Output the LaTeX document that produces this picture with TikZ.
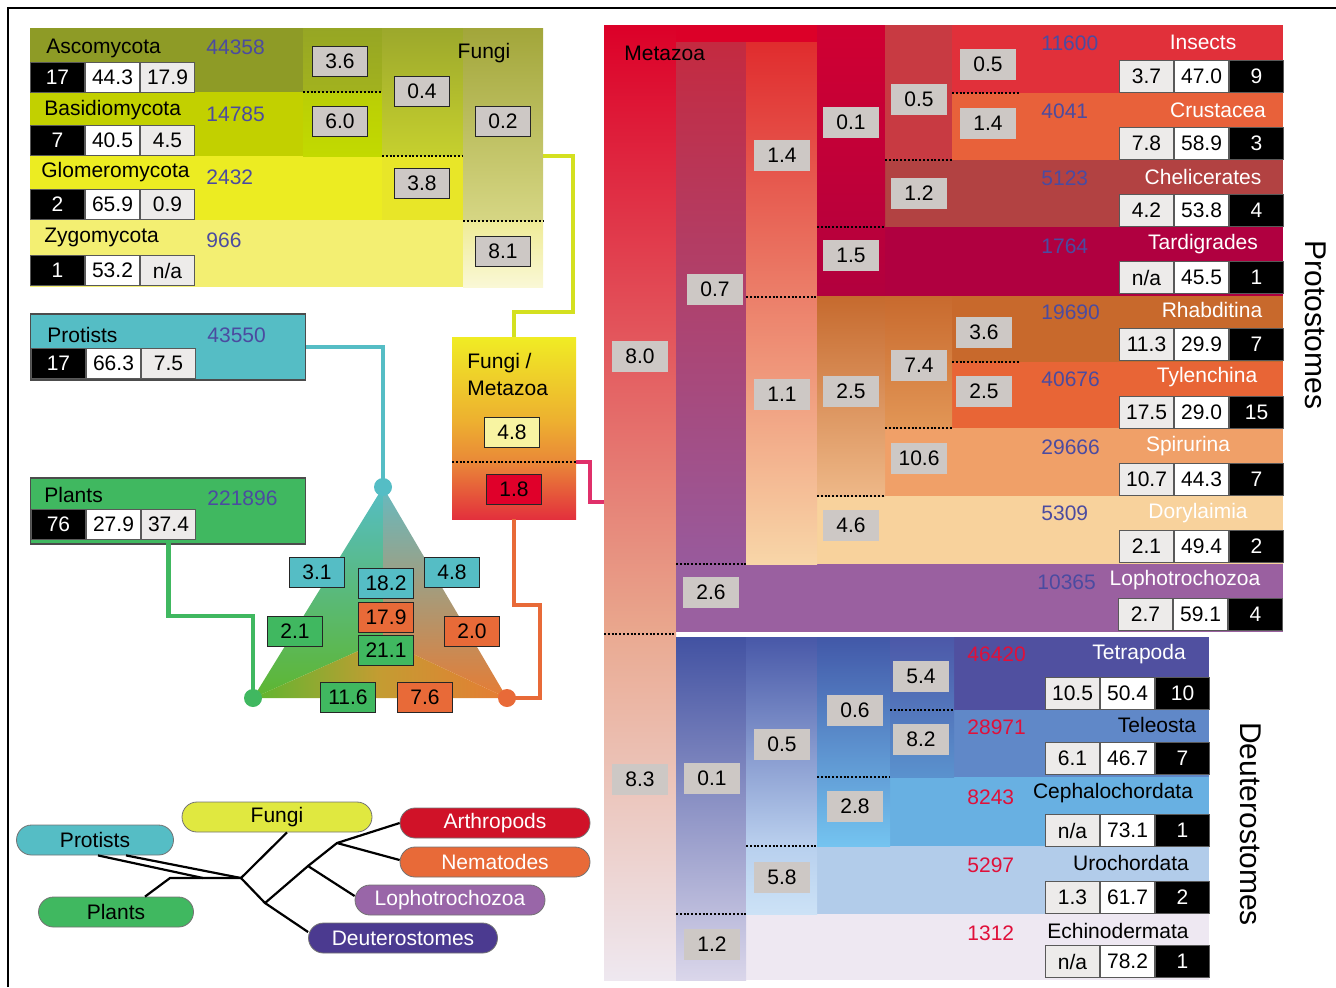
\documentclass[tikz,border=0pt]{standalone}
\usepackage{fontspec}
\setmainfont{Liberation Sans}
\usetikzlibrary{positioning,shapes.misc}

% colours
\definecolor{boxgray}{HTML}{CDC8C5}
\definecolor{cellgray}{HTML}{EDEBEA}
\definecolor{numblue}{HTML}{4B4BA0}
\definecolor{numred}{HTML}{E0103A}
\definecolor{colAsco}{HTML}{8E9B26}
\definecolor{colBasid}{HTML}{C2D000}
\definecolor{colGlom}{HTML}{ECEC22}
\definecolor{colZygo}{HTML}{F3EF72}
\definecolor{fA1}{HTML}{96A624}
\definecolor{fA2}{HTML}{A2B21E}
\definecolor{fA3}{HTML}{BACE06}
\definecolor{fA4}{HTML}{C2DA00}
\definecolor{fB1}{HTML}{9CA82C}
\definecolor{fB2}{HTML}{C6D02E}
\definecolor{fB3}{HTML}{E8E628}
\definecolor{fC1}{HTML}{A2A63A}
\definecolor{fC2}{HTML}{D6D684}
\definecolor{fC3}{HTML}{EFEB96}
\definecolor{fC4}{HTML}{FAF8D6}
\definecolor{colProt}{HTML}{55BDC5}
\definecolor{colPlant}{HTML}{40B860}
\definecolor{colOrange}{HTML}{E86A38}
\definecolor{colPink}{HTML}{E0306A}
\definecolor{colFungiLink}{HTML}{D4E020}
\definecolor{colTreeFungi}{HTML}{E0E840}
\definecolor{colArthro}{HTML}{D01228}
\definecolor{colLopho}{HTML}{9966A8}
\definecolor{colDeut}{HTML}{4B3A90}
\definecolor{triTeal}{HTML}{66BAC0}
\definecolor{triGreen}{HTML}{5EB630}
\definecolor{triGold}{HTML}{C49C32}
\definecolor{triOrange}{HTML}{E67C34}
\definecolor{fmYellow}{HTML}{F0EC24}
\definecolor{fmAmber}{HTML}{EDB030}
\definecolor{fmOrange}{HTML}{E98838}
\definecolor{fmRed}{HTML}{E3303C}
\definecolor{fmPale}{HTML}{F8F4A2}
\definecolor{fmLab}{HTML}{E0002A}
% metazoa
\definecolor{m0a}{HTML}{DC0028}
\definecolor{m0m}{HTML}{E26048}
\definecolor{m0b}{HTML}{E9A88E}
\definecolor{m0c}{HTML}{EAAA92}
\definecolor{m0d}{HTML}{EEE8F0}
\definecolor{insect}{HTML}{E1303A}
\definecolor{crust}{HTML}{E8613A}
\definecolor{chel}{HTML}{B24242}
\definecolor{tard}{HTML}{B00040}
\definecolor{rhab}{HTML}{C8692C}
\definecolor{tyl}{HTML}{E86536}
\definecolor{spir}{HTML}{F0A068}
\definecolor{dory}{HTML}{F8D29C}
\definecolor{lopho}{HTML}{9A60A0}
\definecolor{p1a}{HTML}{C42A40}
\definecolor{p1b}{HTML}{985A9C}
\definecolor{p2a}{HTML}{E02C2E}
\definecolor{p2m}{HTML}{EF8A5A}
\definecolor{p2b}{HTML}{F8D6A8}
\definecolor{p3a}{HTML}{D00032}
\definecolor{p3b}{HTML}{B2003E}
\definecolor{p3c}{HTML}{C66A2E}
\definecolor{p3d}{HTML}{EEB888}
\definecolor{p4a}{HTML}{C83A42}
\definecolor{p4c}{HTML}{C86A2E}
\definecolor{p4d}{HTML}{E29656}
\definecolor{d1a}{HTML}{4252A2}
\definecolor{d1b}{HTML}{DAD6EA}
\definecolor{d2a}{HTML}{4858A8}
\definecolor{d2b}{HTML}{BAD0EE}
\definecolor{d2c}{HTML}{B8D0EE}
\definecolor{d2d}{HTML}{CCE2F6}
\definecolor{d3a}{HTML}{4258A8}
\definecolor{d3b}{HTML}{74C4F0}
\definecolor{d4a}{HTML}{4C58A8}
\definecolor{d4b}{HTML}{5A92CE}
\definecolor{tetra}{HTML}{5050A0}
\definecolor{tele}{HTML}{6088C8}
\definecolor{ceph}{HTML}{68B0E2}
\definecolor{uro}{HTML}{B2CCEA}
\definecolor{echi}{HTML}{EEE8F2}

\pgfdeclareverticalshading{fmshade}{100bp}{color(0bp)=(fmRed); color(25bp)=(fmRed); color(40.7bp)=(fmOrange); color(52bp)=(fmAmber); color(75bp)=(fmYellow); color(100bp)=(fmYellow)}

% three data cells: black, white, grey (fungi, protists, plants)
\newcommand{\ftrio}[5]{%
  \node[fcell, fill=black, text=white, anchor=north west] (#1a) at (#2) {#3};
  \node[fcell, fill=white, right=0pt of #1a] (#1b) {#4};
  \node[fcell, fill=cellgray, right=0pt of #1b] (#1c) {#5};
}
% three data cells: grey, white, black (metazoa)
\newcommand{\mtrio}[5]{%
  \node[mcell, fill=cellgray, anchor=north west] (#1a) at (#2) {#3};
  \node[mcell, fill=white, right=0pt of #1a] (#1b) {#4};
  \node[mcell, fill=black, text=white, right=0pt of #1b] (#1c) {#5};
}

\begin{document}
\begin{tikzpicture}[x=0.5pt, y=-0.5pt,
    every node/.style={font=\fontsize{10.5}{12}\selectfont},
    fcell/.style={minimum width=27pt, minimum height=15pt, inner sep=0pt, draw=black!65, line width=0.5pt},
    mcell/.style={fcell, minimum height=16pt},
    lab/.style={minimum width=27.5pt, minimum height=15pt, inner sep=0pt, fill=boxgray, draw=black!85, line width=0.5pt},
    mlab/.style={minimum width=28pt, minimum height=15.5pt, inner sep=0pt, fill=boxgray},
    group/.style={minimum width=137.5pt, minimum height=33pt, inner sep=0pt, draw=black!70, line width=0.6pt},
    taxon/.style={anchor=west, inner sep=0pt},
    mtaxon/.style={inner sep=0pt, text=white},
    nums/.style={anchor=west, inner sep=0pt, text=numblue},
    dnums/.style={nums, text=numred},
    div/.style={line width=0.6pt, dash pattern=on 1pt off 0.9pt},
    link/.style={line width=2.2pt},
    vdot/.style={circle, minimum size=9pt, inner sep=0pt},
    pill/.style={rounded rectangle, minimum height=15pt, inner sep=0pt, draw=black!55, line width=0.4pt},
    branch/.style={line width=1.1pt}
]
\useasboundingbox (0,0) rectangle (1336,987);

% frame
\draw[line width=1pt] (8,987) -- (8,8) -- (1336,8);

% Fungi block
\fill[colAsco] (30,28) rectangle (303,92);
\fill[colBasid] (30,92) rectangle (303,156);
\fill[colGlom] (30,156) rectangle (382,220);
\fill[colZygo] (30,220) rectangle (463,287);
\shade[top color=fA1, bottom color=fA2] (303,28) rectangle (382,92);
\shade[top color=fA3, bottom color=fA4] (303,92) rectangle (382,156);
\shade[top color=fB1, bottom color=fB2] (382,28) rectangle (463,156);
\fill[fB3] (382,156) rectangle (463,220);
\shade[top color=fC1, bottom color=fC2] (463,28) rectangle (543,221);
\shade[top color=fC3, bottom color=fC4] (463,221) rectangle (543,287);
\draw[div] (303,92) -- (382,92);
\draw[div] (382,156) -- (463,156);
\draw[div] (463,221) -- (543,221);
\coordinate (fungiout) at (543,156);

\node[taxon] (asco) at (46,48) {Ascomycota};
\node[nums] (ascoN) at (206,47) {44358};
\ftrio{asco}{30,62}{17}{44.3}{17.9}
\node[taxon] (basid) at (44,110) {Basidiomycota};
\node[nums] (basidN) at (206,114) {14785};
\ftrio{basid}{30,125}{7}{40.5}{4.5}
\node[taxon] (glom) at (41,172) {Glomeromycota};
\node[nums] (glomN) at (206,177) {2432};
\ftrio{glom}{30,189}{2}{65.9}{0.9}
\node[taxon] (zygo) at (44,237) {Zygomycota};
\node[nums] (zygoN) at (206,240) {966};
\ftrio{zygo}{30,255}{1}{53.2}{n/a}

\node (fungiT) at (484,53) {Fungi};
\node[lab] (f36) at (340,61) {3.6};
\node[lab] (f60) at (340,121) {6.0};
\node[lab] (f04) at (422,91) {0.4};
\node[lab] (f38) at (422,183) {3.8};
\node[lab] (f02) at (503,121) {0.2};
\node[lab] (f81) at (503,251) {8.1};

% Fungi / Metazoa
\node[shade, shading=fmshade, minimum width=62pt, minimum height=91pt, inner sep=0pt] (fm) at (514,428) {};
\draw[div] (452,462) -- (576,462);
\coordinate (fmsplit) at (576,462);
\node[taxon] (fmT1) at (467,363) {Fungi /};
\node[taxon] (fmT2) at (467,388) {Metazoa};
\node[lab, fill=fmPale] (fm48) at (512,432) {4.8};
\node[lab, fill=fmLab] (fm18) at (514,489) {1.8};

% Protists and plants
\node[group, fill=colProt] (prot) at (168,347) {};
\node[taxon] (protT) at (47,335) {Protists};
\node[nums] (protN) at (207,335) {43550};
\ftrio{prot}{31,348}{17}{66.3}{7.5}
\node[group, fill=colPlant] (plant) at (168,511) {};
\node[taxon] (plantT) at (44,495) {Plants};
\node[nums] (plantN) at (207,498) {221896};
\ftrio{plant}{31,509}{76}{27.9}{37.4}

% Triangle
\coordinate (tT) at (383,487);
\coordinate (tL) at (253,698);
\coordinate (tR) at (507,698);
\coordinate (tC) at (383,640);
\shade[top color=colProt, bottom color=triGreen] (tT) -- (tL) -- (tC) -- cycle;
\shade[top color=triTeal, bottom color=triOrange] (tT) -- (tC) -- (tR) -- cycle;
\shade[left color=triGreen, right color=triOrange, middle color=triGold] (tL) -- (tR) -- (tC) -- cycle;

% Metazoa root column
\coordinate (metain) at (604,502);
\shade[top color=m0a, middle color=m0m, bottom color=m0b] (604,25) rectangle (676,634);
\shade[top color=m0c, bottom color=m0d] (604,634) rectangle (676,980);
\fill[m0a] (676,25) rectangle (817,42);
\draw[div] (604,634) -- (676,634);

% Protostomes
\fill[insect] (952,25) rectangle (1283,93);
\fill[crust] (952,93) rectangle (1283,160);
\fill[chel] (885,160) rectangle (1283,227);
\fill[tard] (885,227) rectangle (1283,296);
\fill[rhab] (952,296) rectangle (1283,362);
\fill[tyl] (952,362) rectangle (1283,428);
\fill[spir] (885,428) rectangle (1283,496);
\fill[dory] (817,496) rectangle (1283,564);
\fill[lopho] (676,564) rectangle (1283,632);
\shade[top color=p1a, bottom color=p1b] (676,42) rectangle (746,564);
\shade[top color=p2a, middle color=p2m, bottom color=p2b] (746,42) rectangle (817,564);
\shade[top color=p3a, bottom color=p3b] (817,25) rectangle (885,296);
\shade[top color=p3c, bottom color=p3d] (817,296) rectangle (885,496);
\fill[p4a] (885,25) rectangle (952,160);
\shade[top color=p4c, bottom color=p4d] (885,296) rectangle (952,428);
\draw[div] (952,93) -- (1020,93);
\draw[div] (885,160) -- (952,160);
\draw[div] (817,227) -- (885,227);
\draw[div] (746,297) -- (817,297);
\draw[div] (952,362) -- (1020,362);
\draw[div] (885,428) -- (952,428);
\draw[div] (817,496) -- (885,496);
\draw[div] (676,564) -- (746,564);

% Deuterostomes
\fill[echi] (746,914) rectangle (1209,980);
\fill[uro] (817,846) rectangle (1209,914);
\fill[ceph] (890,777) rectangle (1209,846);
\fill[tele] (954,710) rectangle (1209,777);
\fill[tetra] (954,637) rectangle (1209,710);
\shade[top color=d1a, bottom color=d1b] (676,637) rectangle (746,980);
\shade[top color=d2a, bottom color=d2b] (746,637) rectangle (817,846);
\shade[top color=d2c, bottom color=d2d] (746,846) rectangle (817,914);
\shade[top color=d3a, bottom color=d3b] (817,637) rectangle (890,846);
\shade[top color=d4a, bottom color=d4b] (890,637) rectangle (954,777);
\draw[div] (890,710) -- (954,710);
\draw[div] (817,777) -- (890,777);
\draw[div] (746,846) -- (817,846);
\draw[div] (676,914) -- (746,914);

\node[taxon] (metaT) at (624,53) {Metazoa};

% branch lengths
\node[mlab] (m80) at (640,356) {8.0};
\node[mlab] (m83) at (640,779) {8.3};
\node[mlab] (m07) at (715,289) {0.7};
\node[mlab] (m26) at (711,592) {2.6};
\node[mlab] (m14a) at (782,155) {1.4};
\node[mlab] (m11) at (782,394) {1.1};
\node[mlab] (m01a) at (851,122) {0.1};
\node[mlab] (m15) at (851,255) {1.5};
\node[mlab] (m25a) at (851,391) {2.5};
\node[mlab] (m46) at (851,525) {4.6};
\node[mlab] (m05a) at (919,99) {0.5};
\node[mlab] (m12a) at (919,193) {1.2};
\node[mlab] (m74) at (919,365) {7.4};
\node[mlab] (m106) at (919,458) {10.6};
\node[mlab] (m05b) at (988,64) {0.5};
\node[mlab] (m14b) at (988,123) {1.4};
\node[mlab] (m36) at (984,332) {3.6};
\node[mlab] (m25b) at (984,391) {2.5};
\node[mlab] (m01b) at (712,778) {0.1};
\node[mlab] (m12b) at (712,944) {1.2};
\node[mlab] (m05c) at (782,744) {0.5};
\node[mlab] (m58) at (782,877) {5.8};
\node[mlab] (m06) at (855,710) {0.6};
\node[mlab] (m28) at (855,806) {2.8};
\node[mlab] (m54) at (921,676) {5.4};
\node[mlab] (m82) at (921,739) {8.2};

% protostome taxa
\node[nums] (insN) at (1041,43) {11600};
\node[mtaxon] (ins) at (1203,42) {Insects};
\mtrio{ins}{1119,60}{3.7}{47.0}{9}
\node[nums] (cruN) at (1041,111) {4041};
\node[mtaxon] (cru) at (1218,110) {Crustacea};
\mtrio{cru}{1119,127}{7.8}{58.9}{3}
\node[nums] (cheN) at (1041,178) {5123};
\node[mtaxon] (che) at (1203,177) {Chelicerates};
\mtrio{che}{1119,194}{4.2}{53.8}{4}
\node[nums] (tarN) at (1041,246) {1764};
\node[mtaxon] (tar) at (1203,244) {Tardigrades};
\mtrio{tar}{1119,261}{n/a}{45.5}{1}
\node[nums] (rhaN) at (1041,312) {19690};
\node[mtaxon] (rha) at (1212,310) {Rhabditina};
\mtrio{rha}{1119,328}{11.3}{29.9}{7}
\node[nums] (tylN) at (1041,379) {40676};
\node[mtaxon] (tyl) at (1207,377) {Tylenchina};
\mtrio{tyl}{1119,396}{17.5}{29.0}{15}
\node[nums] (spiN) at (1041,447) {29666};
\node[mtaxon] (spi) at (1188,446) {Spirurina};
\mtrio{spi}{1119,463}{10.7}{44.3}{7}
\node[nums] (dorN) at (1041,513) {5309};
\node[mtaxon] (dor) at (1198,513) {Dorylaimia};
\mtrio{dor}{1119,530}{2.1}{49.4}{2}
\node[nums] (lopN) at (1037,582) {10365};
\node[mtaxon] (lop) at (1185,580) {Lophotrochozoa};
\mtrio{lop}{1118,598}{2.7}{59.1}{4}

% deuterostome taxa
\node[dnums] (tetN) at (967,654) {46420};
\node[mtaxon] (tet) at (1139,654) {Tetrapoda};
\mtrio{tet}{1045,677}{10.5}{50.4}{10}
\node[dnums] (telN) at (967,727) {28971};
\node[mtaxon, text=black] (tel) at (1157,725) {Teleosta};
\mtrio{tel}{1045,742}{6.1}{46.7}{7}
\node[dnums] (cepN) at (967,797) {8243};
\node[mtaxon, text=black] (cep) at (1113,793) {Cephalochordata};
\mtrio{cep}{1045,814}{n/a}{73.1}{1}
\node[dnums] (uroN) at (967,865) {5297};
\node[mtaxon, text=black] (uro) at (1131,863) {Urochordata};
\mtrio{uro}{1045,881}{1.3}{61.7}{2}
\node[dnums] (echN) at (967,933) {1312};
\node[mtaxon, text=black] (ech) at (1118,931) {Echinodermata};
\mtrio{ech}{1045,945}{n/a}{78.2}{1}

\node[rotate=-90, font=\fontsize{15}{18}\selectfont] (protoLab) at (1316,325) {Protostomes};
\node[rotate=-90, font=\fontsize{15}{18}\selectfont] (deutLab) at (1251,824) {Deuterostomes};

% Connectors
\draw[link, colFungiLink] (fungiout) -| (573,312) -| (fm.north);
\draw[link, colPink] (fmsplit) -| (590,502) -- (metain);
\draw[link, colOrange] (fm.south) |- (540,605) |- (tR);
\draw[link, colProt] (prot.east) -| (tT);
\draw[link, colPlant] (plantc.south) |- (253,616) -- (tL);

\node[vdot, fill=colProt] (tdot) at (tT) {};
\node[vdot, fill=colPlant] (gdot) at (tL) {};
\node[vdot, fill=colOrange] (odot) at (tR) {};

\node[lab, fill=colProt] (t31) at (317,572) {3.1};
\node[lab, fill=colProt] (t182) at (386,583) {18.2};
\node[lab, fill=colProt] (t48) at (452,572) {4.8};
\node[lab, fill=colOrange] (t179) at (386,617) {17.9};
\node[lab, fill=colPlant] (t21) at (295,631) {2.1};
\node[lab, fill=colPlant] (t211) at (386,650) {21.1};
\node[lab, fill=colOrange] (t20) at (472,631) {2.0};
\node[lab, fill=colPlant] (t116) at (348,697) {11.6};
\node[lab, fill=colOrange] (t76) at (425,697) {7.6};

% Tree
\coordinate (jp) at (170,878);
\coordinate (j1) at (241,878);
\coordinate (j2) at (265,903);
\coordinate (j3) at (308,866);
\coordinate (j4) at (337,843);
\node[pill, fill=colTreeFungi, minimum width=95pt] (pFungi) at (277,817) {Fungi};
\node[pill, fill=colProt, minimum width=78.5pt] (pProt) at (95,840) {Protists};
\node[pill, fill=colPlant, minimum width=77.5pt] (pPlant) at (116,912) {Plants};
\node[pill, fill=colArthro, text=white, minimum width=95pt] (pArth) at (495,823) {Arthropods};
\node[pill, fill=colOrange, text=white, minimum width=95pt] (pNema) at (495,862) {Nematodes};
\node[pill, fill=colLopho, text=white, minimum width=95pt] (pLoph) at (450,900) {Lophotrochozoa};
\node[pill, fill=colDeut, text=white, minimum width=94.5pt] (pDeut) at (403,938) {Deuterostomes};
\draw[branch] ([xshift=1.5pt]pProt.south) -- (203,878);
\draw[branch] ([xshift=15.5pt]pProt.south) -- (j1);
\draw[branch] ([xshift=14.5pt]pPlant.north) -- (jp) -- (j1);
\draw[branch] (j1) -- ([xshift=5pt]pFungi.south);
\draw[branch] (j1) -- (j2) -- ([yshift=3pt]pDeut.west);
\draw[branch] (j2) -- (j3) -- ([yshift=2pt]pLoph.west);
\draw[branch] (j3) -- (j4) -- (pArth.west);
\draw[branch] (j4) -- ([yshift=1pt]pNema.west);

\end{tikzpicture}
\end{document}
